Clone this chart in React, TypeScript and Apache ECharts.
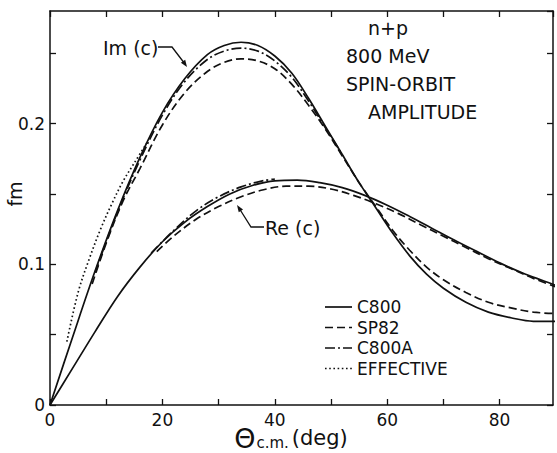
import React, { useEffect, useRef } from 'react';
import * as echarts from 'echarts';

const FONT = '"DejaVu Sans", sans-serif';
const INK = '#111';

// Legend / series names
const seriesNames = ['C800', 'SP82', 'C800A', 'EFFECTIVE'];

// Im(c) curves
const imC800Deg = [0, 4, 8, 12, 16, 20, 24, 28, 31, 34, 37, 40, 43, 46, 49, 52, 55, 58, 61, 64, 67, 70, 74, 78, 82, 86, 90];
const imC800 = [0, 0.048, 0.095, 0.138, 0.176, 0.208, 0.232, 0.249, 0.2555, 0.2578, 0.2555, 0.248, 0.236, 0.218, 0.198, 0.178, 0.158, 0.14, 0.122, 0.106, 0.093, 0.083, 0.073, 0.066, 0.062, 0.0595, 0.0595];

const imSP82Deg = [7.5, 10, 13, 16, 20, 24, 28, 31, 34, 37, 40, 43, 46, 49, 52, 55, 58, 61, 64, 67, 70, 74, 78, 82, 86, 90];
const imSP82 = [0.086, 0.115, 0.145, 0.168, 0.199, 0.222, 0.237, 0.2435, 0.246, 0.2445, 0.239, 0.228, 0.213, 0.196, 0.177, 0.158, 0.141, 0.124, 0.11, 0.098, 0.089, 0.08, 0.073, 0.069, 0.066, 0.065];

const imC800ADeg = [8, 12, 16, 20, 24, 28, 31, 34, 37, 40, 43, 46, 49, 52];
const imC800A = [0.094, 0.137, 0.174, 0.206, 0.23, 0.2455, 0.2515, 0.2536, 0.2515, 0.2445, 0.233, 0.216, 0.197, 0.178];

const imEffDeg = [3, 5, 7, 9, 11, 13, 15, 17.5];
const imEff = [0.045, 0.08, 0.104, 0.125, 0.143, 0.159, 0.172, 0.188];

// Re(c) curves
const reC800Deg = [0, 4, 8, 12, 16, 20, 24, 28, 32, 36, 40, 44, 48, 52, 56, 60, 64, 68, 72, 76, 80, 84, 88, 90];
const reC800 = [0, 0.026, 0.052, 0.077, 0.098, 0.116, 0.13, 0.141, 0.15, 0.156, 0.1593, 0.1598, 0.158, 0.1545, 0.149, 0.142, 0.134, 0.1255, 0.117, 0.109, 0.101, 0.094, 0.088, 0.085];

const reSP82Deg = [19, 22, 26, 30, 34, 38, 42, 46, 50, 54, 58, 62, 66, 70, 74, 78, 82, 86, 90];
const reSP82 = [0.109, 0.12, 0.132, 0.141, 0.148, 0.153, 0.1555, 0.1555, 0.1535, 0.149, 0.143, 0.136, 0.128, 0.12, 0.112, 0.104, 0.097, 0.09, 0.084];

const reC800ADeg = [18, 22, 26, 30, 34, 38, 40];
const reC800A = [0.108, 0.124, 0.138, 0.148, 0.155, 0.1595, 0.1605];

// Axis
const xLabeled = [0, 20, 40, 60, 80];
const yLabeled = [0, 0.1, 0.2];
const xTitle = ['Θ', 'c.m.', '(deg)'];
const yTitle = 'fm';

// Annotation texts
const infoLines = ['n+p', '800 MeV', 'SPIN-ORBIT', 'AMPLITUDE'];
const imLabel = 'Im (c)';
const reLabel = 'Re (c)';

const zip = (xs: number[], ys: number[]) => xs.map((x, i) => [x, ys[i]]);

const DASH = [8, 4];
const DASHDOT = [10, 3, 2, 3];
const DOT = [1.6, 2.6];
const styles: any[] = ['solid', DASH, DASHDOT, DOT];

function lineSeries(name: string, data: number[][], type: any) {
  return {
    type: 'line',
    name,
    data,
    smooth: 0.35,
    symbol: 'none',
    silent: true,
    lineStyle: { color: INK, width: 1.7, type, cap: 'butt' },
    z: 3,
  };
}

function arrowHead(tip: number[], from: number[], len = 7, half = 2.6) {
  const dx = tip[0] - from[0];
  const dy = tip[1] - from[1];
  const d = Math.hypot(dx, dy);
  const ux = dx / d, uy = dy / d;
  const bx = tip[0] - ux * len, by = tip[1] - uy * len;
  return {
    type: 'polygon',
    shape: { points: [tip, [bx - uy * half, by + ux * half], [bx + uy * half, by - ux * half]] },
    style: { fill: INK },
  };
}

const axisCommon = {
  type: 'value',
  axisLine: { show: true, onZero: false, lineStyle: { color: INK, width: 1.5 } },
  axisTick: { show: true, inside: true, length: 6, lineStyle: { color: INK, width: 1.3 } },
  splitLine: { show: false },
};

export default function App() {
  const ref = useRef<HTMLDivElement>(null);
  useEffect(() => {
    const chart = echarts.init(ref.current!, null, { renderer: 'svg' });
    const legendX1 = 325, legendX2 = 352, legendTextX = 357;
    const legendY = [307, 327.5, 348, 368.5];
    const infoY = [28, 56, 84, 112];
    const infoX = [368, 346, 346, 368];
    const option: any = {
      animation: false,
      backgroundColor: '#fff',
      textStyle: { fontFamily: FONT, color: INK },
      grid: { left: 50, right: 4, top: 11, bottom: 48, outerBoundsMode: 'none', containLabel: false },
      xAxis: [
        {
          ...axisCommon,
          min: 0,
          max: 89.5,
          interval: 10,
          position: 'bottom',
          axisLabel: {
            color: INK,
            fontSize: 17,
            fontFamily: FONT,
            margin: 6,
            showMaxLabel: false,
            formatter: (v: number) => (xLabeled.includes(Math.round(v * 10) / 10) ? String(v) : ''),
          },
        },
        {
          ...axisCommon,
          min: 0,
          max: 89.5,
          interval: 10,
          position: 'top',
          axisLabel: { show: false },
        },
      ],
      yAxis: [
        {
          ...axisCommon,
          min: 0,
          max: 0.28,
          interval: 0.05,
          position: 'left',
          axisLabel: {
            color: INK,
            fontSize: 17,
            fontFamily: FONT,
            margin: 5,
            showMaxLabel: false,
            formatter: (v: number) => {
              const r = Math.round(v * 100) / 100;
              return yLabeled.includes(r) ? String(r) : '';
            },
          },
        },
        {
          ...axisCommon,
          min: 0,
          max: 0.28,
          interval: 0.05,
          position: 'right',
          axisLabel: { show: false },
        },
      ],
      series: [
        lineSeries(seriesNames[0], zip(imC800Deg, imC800), styles[0]),
        lineSeries(seriesNames[1], zip(imSP82Deg, imSP82), styles[1]),
        lineSeries(seriesNames[2], zip(imC800ADeg, imC800A), styles[2]),
        lineSeries(seriesNames[3], zip(imEffDeg, imEff), styles[3]),
        lineSeries(seriesNames[0] + ' Re', zip(reC800Deg, reC800), styles[0]),
        lineSeries(seriesNames[1] + ' Re', zip(reSP82Deg, reSP82), styles[1]),
        lineSeries(seriesNames[2] + ' Re', zip(reC800ADeg, reC800A), styles[2]),
      ],
      graphic: [
        {
          type: 'text',
          x: 291,
          y: 438,
          style: {
            text: `{a|${xTitle[0]}}{b|${xTitle[1]}}{c|${xTitle[2]}}`,
            align: 'center',
            verticalAlign: 'middle',
            fill: INK,
            rich: {
              a: { fontSize: 27, lineHeight: 24, fontFamily: FONT, fill: INK },
              b: { fontSize: 15, lineHeight: 15, fontFamily: FONT, fill: INK, verticalAlign: 'bottom', padding: [0, 3, 0, 1] },
              c: { fontSize: 21, lineHeight: 24, fontFamily: FONT, fill: INK },
            },
          },
        },
        {
          type: 'text',
          x: 15,
          y: 194,
          rotation: Math.PI / 2,
          style: { text: yTitle, font: `19px ${FONT}`, fill: INK, align: 'center', verticalAlign: 'middle' },
        },
        ...infoLines.map((t, i) => ({
          type: 'text',
          x: infoX[i],
          y: infoY[i],
          style: { text: t, font: `19px ${FONT}`, fill: INK, align: 'left', verticalAlign: 'middle' },
        })),
        {
          type: 'text', x: 103, y: 48,
          style: { text: imLabel, font: `19px ${FONT}`, fill: INK, align: 'left', verticalAlign: 'middle' },
        },
        {
          type: 'polyline',
          shape: { points: [[158, 47], [172, 47], [185, 64]] },
          style: { stroke: INK, lineWidth: 1.3, fill: 'none' },
        },
        arrowHead([187, 67], [176, 51]),
        {
          type: 'text', x: 265, y: 228,
          style: { text: reLabel, font: `19px ${FONT}`, fill: INK, align: 'left', verticalAlign: 'middle' },
        },
        {
          type: 'polyline',
          shape: { points: [[264, 227], [251, 227], [239, 208]] },
          style: { stroke: INK, lineWidth: 1.3, fill: 'none' },
        },
        arrowHead([237, 205], [251, 226]),
        ...seriesNames.map((t, i) => ({
          type: 'group',
          children: [
            {
              type: 'line',
              shape: { x1: legendX1, y1: legendY[i], x2: legendX2, y2: legendY[i] },
              style: {
                stroke: INK,
                lineWidth: 1.7,
                lineDash: styles[i] === 'solid' ? null : styles[i],
              },
            },
            {
              type: 'text',
              x: legendTextX,
              y: legendY[i],
              style: { text: t, font: `17px ${FONT}`, fill: INK, align: 'left', verticalAlign: 'middle' },
            },
          ],
        })),
      ],
    };
    chart.setOption(option);
    return () => chart.dispose();
  }, []);
  return (
    <div
      ref={ref}
      style={{ position: 'fixed', left: 0, top: 0, width: 557, height: 453, background: '#fff' }}
    />
  );
}
